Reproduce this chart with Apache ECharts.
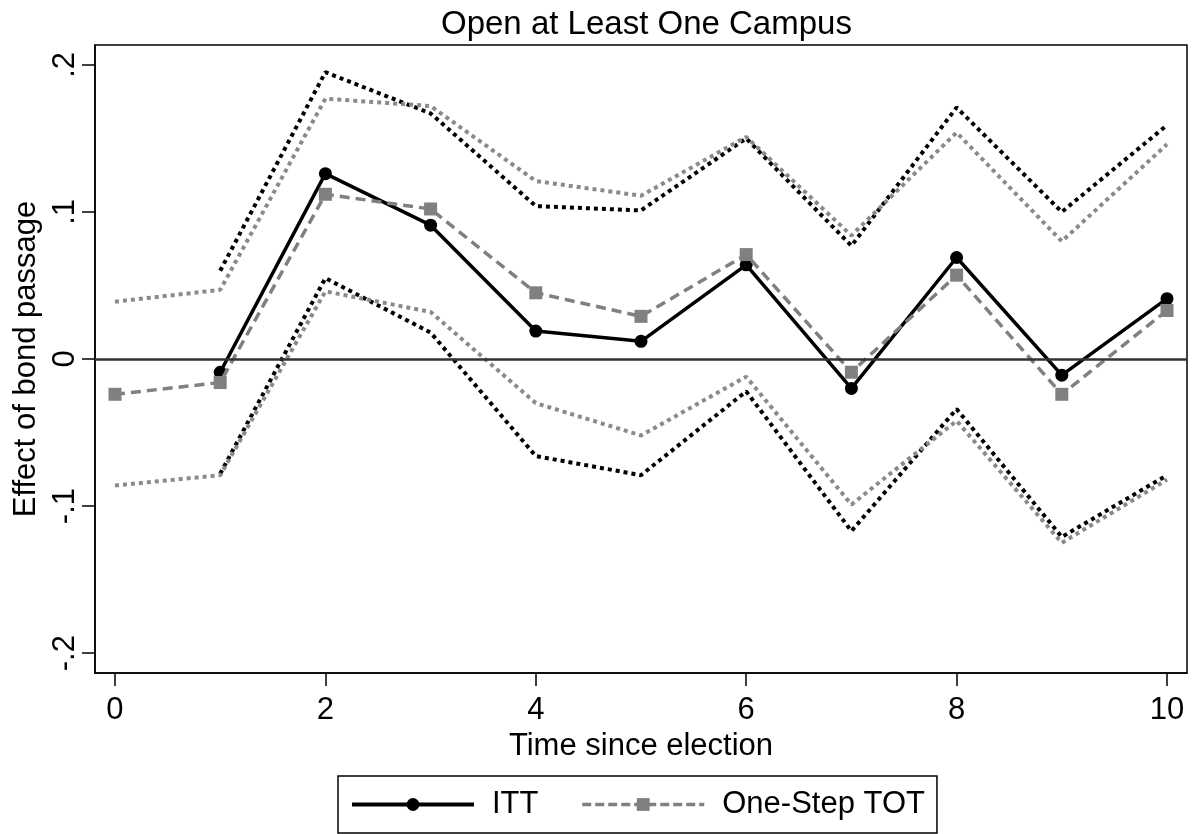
<!DOCTYPE html>
<html>
<head>
<meta charset="utf-8">
<title>Open at Least One Campus</title>
<script src="https://cdn.jsdelivr.net/npm/echarts@6/dist/echarts.min.js"></script>
<style>
  html, body { margin: 0; padding: 0; background: #fff; }
  #chart { width: 1195px; height: 834px; }
</style>
</head>
<body>
<div id="chart"></div>
<script>
// Years since the bond election
const timeSinceElection = [0, 1, 2, 3, 4, 5, 6, 7, 8, 9, 10];

// Intent-to-treat estimates and their confidence bounds (no estimate at year 0)
const ittEstimate = [null, -0.009, 0.126, 0.091, 0.019, 0.012, 0.064, -0.020, 0.069, -0.011, 0.041];
const ittUpper    = [null, 0.060, 0.195, 0.167, 0.104, 0.101, 0.150, 0.077, 0.171, 0.100, 0.159];
const ittLower    = [null, -0.078, 0.055, 0.018, -0.066, -0.079, -0.022, -0.117, -0.034, -0.121, -0.079];

// One-step treatment-on-the-treated estimates and their confidence bounds
const totEstimate = [-0.024, -0.016, 0.112, 0.102, 0.045, 0.029, 0.071, -0.009, 0.057, -0.024, 0.033];
const totUpper    = [0.039, 0.047, 0.177, 0.172, 0.121, 0.111, 0.151, 0.084, 0.154, 0.080, 0.146];
const totLower    = [-0.086, -0.079, 0.046, 0.032, -0.030, -0.052, -0.012, -0.099, -0.042, -0.125, -0.082];

// Axis ticks and their printed labels
const xTickValues = [0, 2, 4, 6, 8, 10];
const yTickValues = [-0.2, -0.1, 0, 0.1, 0.2];
const yTickLabels = ['-.2', '-.1', '0', '.1', '.2'];

const FONT = '"Liberation Sans", Arial, Helvetica, sans-serif';
const pairs = (ys) => timeSinceElection.map((t, i) => [t, ys[i]]);

const chart = echarts.init(document.getElementById('chart'), null, { renderer: 'canvas' });

const dotted = [4, 4];

chart.setOption({
  animation: false,
  backgroundColor: '#ffffff',
  textStyle: { fontFamily: FONT },
  title: {
    text: 'Open at Least One Campus',
    left: 436,
    top: 3,
    textStyle: { fontFamily: FONT, fontSize: 33, fontWeight: 'normal', color: '#000' }
  },
  grid: {
    left: 95, right: 8, top: 45, bottom: 161,
    outerBoundsMode: 'none',
    containLabel: false,
    show: true, borderColor: '#000', borderWidth: 1.5, backgroundColor: 'transparent'
  },
  legend: {
    data: [
      { name: 'ITT', lineStyle: { width: 4, type: 'solid' } },
      { name: 'One-Step TOT', lineStyle: { width: 3.5, type: [9, 4] } }
    ],
    left: 338, top: 776,
    padding: [12, 12, 12, 12],
    itemWidth: 122, itemHeight: 16, itemGap: 42,
    borderColor: '#000', borderWidth: 1.5,
    textStyle: { fontFamily: FONT, fontSize: 31, color: '#000', padding: [0, 0, 0, 13], lineHeight: 33 }
  },
  xAxis: {
    type: 'value',
    min: -0.19, max: 10.19,
    name: 'Time since election',
    nameLocation: 'middle', nameGap: 52,
    nameTextStyle: { fontFamily: FONT, fontSize: 31, color: '#000' },
    axisLine: { show: true, onZero: false, lineStyle: { color: '#000', width: 1.5 } },
    axisTick: { show: true, length: 13, customValues: xTickValues, lineStyle: { color: '#000', width: 1.5 } },
    axisLabel: { customValues: xTickValues, margin: 22, fontFamily: FONT, fontSize: 31, color: '#000' },
    splitLine: { show: false }
  },
  yAxis: {
    type: 'value',
    min: -0.2135, max: 0.2135,
    name: 'Effect of bond passage',
    nameLocation: 'middle', nameGap: 44,
    nameTextStyle: { fontFamily: FONT, fontSize: 31, color: '#000' },
    axisLine: { show: true, onZero: false, lineStyle: { color: '#000', width: 1.5 } },
    axisTick: { show: true, length: 13, customValues: yTickValues, lineStyle: { color: '#000', width: 1.5 } },
    axisLabel: {
      customValues: yTickValues,
      rotate: 90, margin: 14,
      fontFamily: FONT, fontSize: 31, color: '#000',
      formatter: (v) => {
        const i = yTickValues.findIndex((t) => Math.abs(t - v) < 1e-9);
        return i >= 0 ? yTickLabels[i] : '';
      }
    },
    splitLine: { show: false }
  },
  series: [
    {
      name: 'ITT upper', type: 'line', data: pairs(ittUpper),
      showSymbol: false, symbol: 'none', z: 2,
      lineStyle: { color: '#000', width: 4, type: dotted, cap: 'butt' },
      markLine: {
        silent: true, symbol: ['none', 'none'], label: { show: false },
        lineStyle: { color: '#333', width: 2.5, type: 'solid' },
        data: [{ yAxis: 0 }]
      }
    },
    {
      name: 'ITT lower', type: 'line', data: pairs(ittLower),
      showSymbol: false, symbol: 'none', z: 2,
      lineStyle: { color: '#000', width: 4, type: dotted, cap: 'butt' }
    },
    {
      name: 'TOT upper', type: 'line', data: pairs(totUpper),
      showSymbol: false, symbol: 'none', z: 2,
      lineStyle: { color: '#8a8a8a', width: 4, type: dotted, cap: 'butt' }
    },
    {
      name: 'TOT lower', type: 'line', data: pairs(totLower),
      showSymbol: false, symbol: 'none', z: 2,
      lineStyle: { color: '#8a8a8a', width: 4, type: dotted, cap: 'butt' }
    },
    {
      name: 'ITT', type: 'line', data: pairs(ittEstimate),
      symbol: 'circle', symbolSize: 13, z: 3,
      itemStyle: { color: '#000' },
      lineStyle: { color: '#000', width: 3.5, type: 'solid' }
    },
    {
      name: 'One-Step TOT', type: 'line', data: pairs(totEstimate),
      symbol: 'rect', symbolSize: 13, z: 4,
      itemStyle: { color: '#808080' },
      lineStyle: { color: '#808080', width: 3.5, type: [10, 6] }
    }
  ]
});
</script>
</body>
</html>
